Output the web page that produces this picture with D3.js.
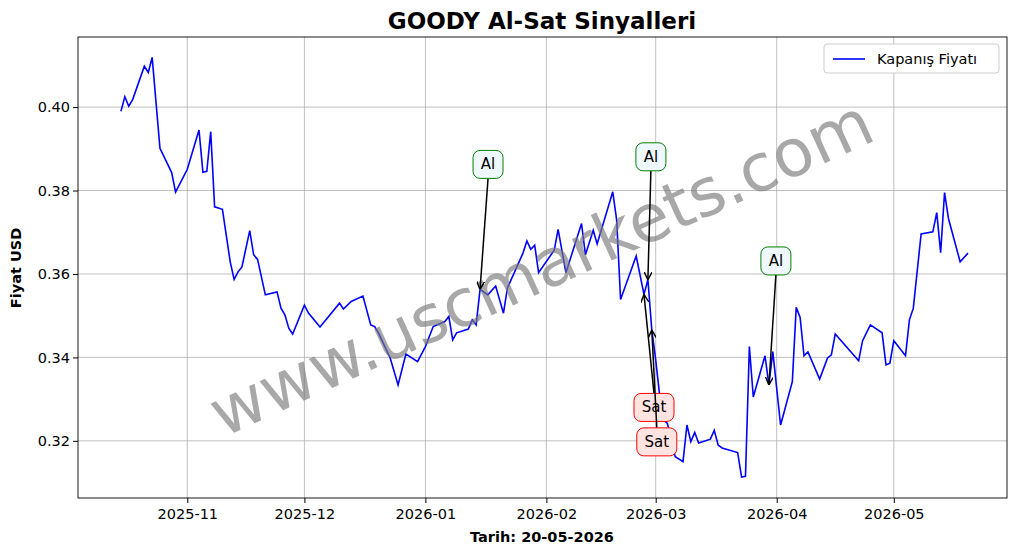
<!DOCTYPE html><html><head><meta charset="utf-8"><script src="https://cdn.jsdelivr.net/npm/d3@7"></script>
<style>body{margin:0;background:#fff}svg{font-family:"DejaVu Sans",sans-serif}</style></head><body><svg id="c" width="1017" height="554"></svg>
<script>
const dates=["2025-10-15","2025-10-16","2025-10-17","2025-10-18","2025-10-21","2025-10-22","2025-10-23","2025-10-25","2025-10-28","2025-10-29","2025-11-01","2025-11-04","2025-11-05","2025-11-06","2025-11-07","2025-11-08","2025-11-10","2025-11-12","2025-11-13","2025-11-14","2025-11-15","2025-11-17","2025-11-18","2025-11-19","2025-11-21","2025-11-24","2025-11-25","2025-11-26","2025-11-27","2025-11-28","2025-12-01","2025-12-02","2025-12-05","2025-12-10","2025-12-11","2025-12-13","2025-12-16","2025-12-18","2025-12-19","2025-12-20","2025-12-23","2025-12-25","2025-12-27","2025-12-30","2026-01-01","2026-01-03","2026-01-06","2026-01-07","2026-01-08","2026-01-09","2026-01-12","2026-01-13","2026-01-14","2026-01-15","2026-01-17","2026-01-19","2026-01-21","2026-01-22","2026-01-26","2026-01-27","2026-01-28","2026-01-29","2026-01-30","2026-02-03","2026-02-04","2026-02-06","2026-02-10","2026-02-11","2026-02-13","2026-02-14","2026-02-18","2026-02-19","2026-02-20","2026-02-24","2026-02-26","2026-02-27","2026-02-28","2026-03-01","2026-03-02","2026-03-03","2026-03-04","2026-03-06","2026-03-08","2026-03-09","2026-03-10","2026-03-11","2026-03-12","2026-03-15","2026-03-16","2026-03-17","2026-03-18","2026-03-22","2026-03-23","2026-03-24","2026-03-25","2026-03-26","2026-03-29","2026-03-30","2026-03-31","2026-04-02","2026-04-05","2026-04-06","2026-04-07","2026-04-08","2026-04-09","2026-04-12","2026-04-14","2026-04-15","2026-04-16","2026-04-22","2026-04-23","2026-04-25","2026-04-28","2026-04-29","2026-04-30","2026-05-01","2026-05-04","2026-05-05","2026-05-06","2026-05-08","2026-05-11","2026-05-12","2026-05-13","2026-05-14","2026-05-15","2026-05-18","2026-05-20"];
const prices=[.3990,.4025,.4002,.4018,.4098,.4083,.4119,.3901,.3843,.3796,.3851,.3945,.3844,.3846,.3941,.3761,.3755,.3629,.3587,.3605,.3617,.3704,.3646,.3635,.3550,.3557,.3518,.3502,.3470,.3456,.3525,.3507,.3473,.3530,.3516,.3534,.3547,.3478,.3474,.3458,.3398,.3334,.3408,.3390,.3426,.3474,.3486,.3498,.3442,.3459,.3468,.3490,.3478,.3563,.3550,.3571,.3506,.3566,.3650,.3679,.3659,.3669,.3603,.3657,.3707,.3603,.3721,.3646,.3705,.3672,.3797,.3729,.3539,.3643,.3551,.3586,.3466,.3394,.3310,.3250,.3242,.3162,.3150,.3238,.3198,.3220,.3195,.3204,.3225,.3190,.3183,.3172,.3113,.3115,.3426,.3305,.3404,.3334,.3414,.3238,.3342,.3520,.3496,.3404,.3413,.3348,.3398,.3406,.3456,.3392,.3440,.3478,.3459,.3382,.3386,.3440,.3404,.3490,.3518,.3696,.3701,.3747,.3651,.3795,.3733,.3629,.3650];
const sigLabels=["Al","Al","Al","Sat","Sat"];
const sigDates=["2026-01-15","2026-02-27","2026-03-30","2026-02-26","2026-02-28"];
const sigPrices=[.3563,.3586,.3334,.3551,.3466];
const sigOffsets=[[8,-125],[3,-123],[7,-124],[10,113],[5,112]];
const yTicks=[0.32,0.34,0.36,0.38,0.40];
const xTicks=["2025-11-01","2025-12-01","2026-01-01","2026-02-01","2026-03-01","2026-04-01","2026-05-01"];

const p=d3.timeParse("%Y-%m-%d");
const svg=d3.select("#c");
const L=78,R=1007,T=37,B=498;
const x=d3.scaleTime().domain([p("2025-10-04"),p("2026-05-30")]).range([L,R]);
const y=d3.scaleLinear().domain([0.3063,0.4168]).range([B,T]);
const g=svg.append("g");
g.selectAll(".gx").data(xTicks).join("line").attr("x1",d=>x(p(d))).attr("x2",d=>x(p(d))).attr("y1",T).attr("y2",B).attr("stroke","#b0b0b0").attr("stroke-width",0.8);
g.selectAll(".gy").data(yTicks).join("line").attr("y1",d=>y(d)).attr("y2",d=>y(d)).attr("x1",L).attr("x2",R).attr("stroke","#b0b0b0").attr("stroke-width",0.8);
const xa=svg.append("g").attr("transform",`translate(0,${B})`).call(d3.axisBottom(x).tickValues(xTicks.map(p)).tickFormat(d3.timeFormat("%Y-%m")).tickSizeOuter(0).tickSize(5));
const ya=svg.append("g").attr("transform",`translate(${L},0)`).call(d3.axisLeft(y).tickValues(yTicks).tickFormat(d3.format(".2f")).tickSizeOuter(0).tickSize(5));
[xa,ya].forEach(a=>{a.attr("font-size",null).attr("font-family",null);a.selectAll("text").style("font-size","14.5px").style("font-family","DejaVu Sans").attr("fill","#000");a.select(".domain").remove();});
xa.selectAll("text").attr("dy","0.9em");
svg.append("rect").attr("x",L).attr("y",T).attr("width",R-L).attr("height",B-T).attr("fill","none").attr("stroke","#000").attr("stroke-width",0.9);
const line=d3.line().x((d,i)=>x(p(dates[i]))).y(d=>y(d));
svg.append("path").attr("d",line(prices)).attr("fill","none").attr("stroke","#0000ff").attr("stroke-width",1.6);
svg.append("text").attr("transform","translate(543,272) rotate(-24.5)").attr("text-anchor","middle").attr("dominant-baseline","middle").attr("font-size",66).attr("fill","#7a7a7a").attr("opacity",0.65).text("www.uscmarkets.com");
const defs=svg.append("defs");
defs.append("marker").attr("id","ar").attr("viewBox","0 0 10 10").attr("refX",10).attr("refY",5).attr("markerWidth",8).attr("markerHeight",8).attr("markerUnits","userSpaceOnUse").attr("orient","auto-start-reverse").append("path").attr("d","M0,0 L10,5 L0,10").attr("fill","none").attr("stroke","#000").attr("stroke-width",1.8);
sigLabels.forEach((lab,i)=>{
  const px=x(p(sigDates[i])),py=y(sigPrices[i]);
  const tx=px+sigOffsets[i][0],ty=py+sigOffsets[i][1];
  const buy=lab==="Al";
  const w=buy?30:40,h=28;
  const ey=buy?ty+h/2:ty-h/2;
  svg.append("line").attr("x1",tx).attr("y1",ey).attr("x2",px).attr("y2",py).attr("stroke","#000").attr("stroke-width",1.5).attr("marker-end","url(#ar)");
  svg.append("rect").attr("x",tx-w/2).attr("y",ty-h/2).attr("width",w).attr("height",h).attr("rx",7).attr("fill",buy?"#f0f8ff":"#ffe4e1").attr("stroke",buy?"green":"red").attr("stroke-width",1);
  svg.append("text").attr("x",tx).attr("y",ty+5).attr("text-anchor","middle").attr("font-size",15).text(lab);
});
svg.append("text").attr("x",542).attr("y",29).attr("text-anchor","middle").attr("font-size",23).attr("font-weight","bold").text("GOODY Al-Sat Sinyalleri");
svg.append("text").attr("x",542).attr("y",542).attr("text-anchor","middle").attr("font-size",14.5).attr("font-weight","bold").text("Tarih: 20-05-2026");
svg.append("text").attr("transform","translate(21,268) rotate(-90)").attr("text-anchor","middle").attr("font-size",14.5).attr("font-weight","bold").text("Fiyat USD");
const lg=svg.append("g");
lg.append("rect").attr("x",824).attr("y",44).attr("width",175).attr("height",29).attr("rx",3).attr("fill","#fff").attr("stroke","#ccc");
lg.append("line").attr("x1",833).attr("x2",865).attr("y1",59).attr("y2",59).attr("stroke","#0000ff").attr("stroke-width",1.6);
lg.append("text").attr("x",877).attr("y",64).attr("font-size",14.5).text("Kapanış Fiyatı");
</script></body></html>
